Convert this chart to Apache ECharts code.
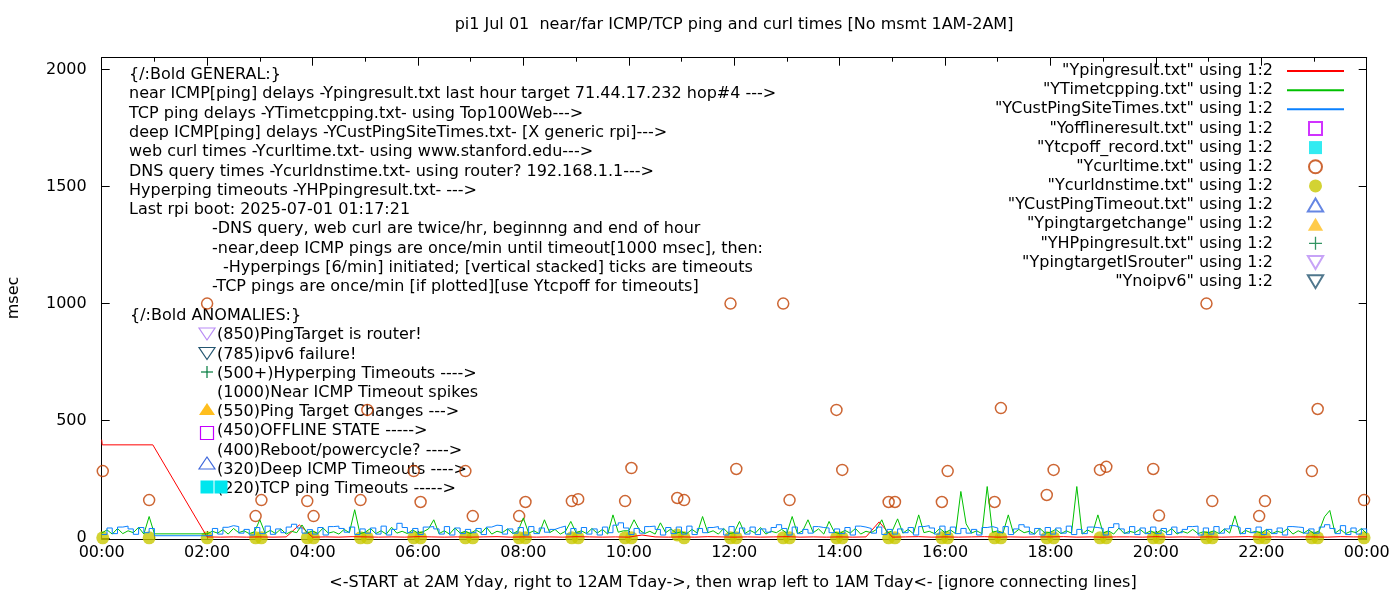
<!DOCTYPE html>
<html>
<head>
<meta charset="utf-8">
<title>pi1 Jul 01 ping and curl times</title>
<script src="https://cdn.jsdelivr.net/npm/echarts@6/dist/echarts.min.js"></script>
<style>
html, body { margin: 0; padding: 0; background: #fff; }
#chart { width: 1400px; height: 600px; }
</style>
</head>
<body>
<div id="chart"></div>
<script>
var FONT = 'DejaVu Sans';
var FS = 16;
var STEP = 0.1;          // hours between sampled line points
var PING_STEP = 0.25;    // hours between sampled red points

// near ICMP ping, Ypingresult.txt (red)
var pingEarlyHours = [0, 0.01, 0.97];
var pingEarlyMs = [419, 397, 397];
// from 02:00 to 24:00
var pingLateMs = [
    4, 3, 4, 3,   4, 3, 4, 55,  3, 4, 3, 5,   4, 3, 4, 3,
    5, 4, 3, 4,   3, 4, 5, 3,   4, 3, 4, 3,   5, 4, 3, 4,
    3, 12, 4, 3,  4, 3, 5, 4,   3, 4, 3, 4,   5, 3, 4, 3,
    4, 3, 4, 68,  3, 4, 5, 3,   4, 3, 4, 5,   3, 4, 3, 4,
    4, 5, 3, 4,   3, 4, 4, 3,   5, 3, 4, 3,   4, 3, 4, 5,
    3, 4, 3, 4,   4, 3, 5, 4,   4
];

// TCP ping, YTimetcpping.txt (green): 00:00-01:00, then 02:00-24:00
var tcpEarlyMs = [20, 34, 16, 40, 18, 30, 22, 45, 16, 91, 17];
var tcpLateMs = [
    17, 28, 20, 35, 16, 40, 22, 30, 18, 26,
    77, 20, 32, 18, 38, 16, 28, 22, 55, 20,
    30, 18, 42, 20, 26, 16, 36, 22, 120, 18,
    24, 40, 18, 30, 16, 45, 20, 28, 18, 34,
    20, 26, 38, 77, 18, 30, 16, 42, 20, 28,
    18, 34, 20, 45, 16, 28, 22, 38, 18, 30,
    85, 20, 30, 18, 77, 22, 36, 16, 28, 70,
    22, 30, 18, 40, 20, 36, 16, 98, 24, 30,
    30, 77, 34, 18, 28, 16, 64, 22, 38, 20,
    26, 18, 36, 20, 91, 22, 30, 16, 40, 18,
    22, 70, 18, 32, 20, 44, 16, 28, 22, 36,
    20, 91, 18, 30, 77, 22, 38, 16, 70, 24,
    18, 32, 20, 40, 16, 28, 22, 36, 77, 20,
    30, 81, 20, 36, 18, 98, 22, 28, 18, 40,
    22, 34, 18, 198, 60, 20, 30, 18, 219, 24,
    30, 20, 98, 18, 36, 22, 28, 16, 40, 20,
    24, 36, 18, 30, 20, 219, 16, 34, 22, 98,
    20, 30, 16, 42, 18, 28, 22, 36, 18, 30,
    18, 34, 22, 40, 16, 28, 20, 36, 18, 26,
    22, 30, 18, 38, 20, 94, 16, 32, 22, 28,
    20, 36, 18, 28, 22, 40, 16, 30, 20, 34,
    18, 30, 90, 117, 20, 36, 18, 28, 22, 40,
    18
];

// deep ICMP ping, YCustPingSiteTimes.txt (blue): 00:00-01:00, then 02:00-24:00
var deepEarlyMs = [14, 42, 18, 46, 50, 38, 15, 44, 22, 40, 9];
var deepLateMs = [
    10, 40, 16, 45, 52, 48, 20, 36, 12, 44,
    18, 50, 15, 38, 22, 46, 58, 42, 20, 35,
    16, 44, 12, 48, 50, 40, 24, 46, 14, 38,
    20, 42, 16, 50, 12, 36, 62, 44, 22, 40,
    14, 46, 48, 38, 16, 48, 12, 42, 18, 36,
    22, 40, 14, 46, 54, 52, 16, 38, 20, 44,
    12, 48, 18, 42, 24, 36, 44, 50, 16, 40,
    20, 44, 16, 38, 12, 46, 22, 54, 64, 42,
    14, 40, 20, 48, 50, 36, 12, 44, 18, 46,
    16, 50, 14, 40, 22, 44, 48, 38, 12, 48,
    20, 42, 16, 46, 14, 38, 24, 44, 56, 40,
    12, 46, 18, 36, 20, 48, 44, 42, 22, 38,
    18, 44, 12, 50, 46, 40, 20, 46, 14, 36,
    16, 38, 22, 44, 12, 48, 52, 42, 16, 50,
    14, 46, 18, 40, 20, 36, 12, 44, 48, 42,
    22, 48, 14, 38, 56, 46, 16, 40, 12, 44,
    16, 42, 20, 50, 14, 36, 18, 46, 44, 40,
    12, 44, 60, 38, 20, 48, 14, 42, 18, 46,
    18, 40, 14, 46, 22, 36, 48, 50, 12, 42,
    16, 48, 20, 38, 52, 44, 18, 40, 22, 46,
    14, 36, 18, 42, 12, 48, 46, 44, 20, 38,
    20, 46, 56, 40, 18, 52, 14, 42, 16, 38,
    20
];

// web curl (Ycurltime.txt) and DNS query (Ycurldnstime.txt), same sample times
var curlHours = [0.02, 0.9, 2.0, 2.92, 3.03, 3.9, 4.02, 4.91, 5.04, 5.92, 6.05, 6.9,
    7.04, 7.92, 8.04, 8.92, 9.04, 9.93, 10.05, 10.92, 11.05, 11.93, 12.04, 12.93,
    13.05, 13.94, 14.05, 14.93, 15.05, 15.94, 16.05, 16.94, 17.06, 17.93, 18.06,
    18.94, 19.06, 19.95, 20.06, 20.96, 21.07, 21.96, 22.07, 22.96, 23.07, 23.95];
var curlMs = [285, 161, 1000, 93, 161, 157, 93, 161, 546, 285, 153, 285,
    93, 93, 153, 157, 165, 157, 298, 170, 161, 1000, 294, 1000,
    161, 546, 290, 153, 153, 153, 285, 153, 554, 183, 290,
    290, 303, 294, 95, 1000, 157, 93, 157, 285, 550, 161];
var dnsMs = [0, 0, 0, 0, 0, 0, 0, 0, 0, 0, 0, 0,
    0, 0, 0, 0, 0, 0, 0, 12, 0, 0, 0, 0,
    0, 0, 0, 0, 0, 0, 0, 0, 0, 0, 0,
    0, 0, 0, 0, 0, 0, 0, 0, 0, 0, 0];

var yTicks = [0, 500, 1000, 1500, 2000];

var seriesNames = [
    '"Ypingresult.txt" using 1:2',
    '"YTimetcpping.txt" using 1:2',
    '"YCustPingSiteTimes.txt" using 1:2',
    '"Yofflineresult.txt" using 1:2',
    '"Ytcpoff_record.txt" using 1:2',
    '"Ycurltime.txt" using 1:2',
    '"Ycurldnstime.txt" using 1:2',
    '"YCustPingTimeout.txt" using 1:2',
    '"Ypingtargetchange" using 1:2',
    '"YHPpingresult.txt" using 1:2',
    '"YpingtargetISrouter" using 1:2',
    '"Ynoipv6" using 1:2'
];

var titleText = 'pi1 Jul 01  near/far ICMP/TCP ping and curl times [No msmt 1AM-2AM]';
var xName = '<-START at 2AM Yday, right to 12AM Tday->, then wrap left to 1AM Tday<- [ignore connecting lines]';
var yName = 'msec';

var generalNotes = [
    '{/:Bold GENERAL:}',
    'near ICMP[ping] delays -Ypingresult.txt last hour target 71.44.17.232 hop#4 --->',
    'TCP ping delays -YTimetcpping.txt- using Top100Web--->',
    'deep ICMP[ping] delays -YCustPingSiteTimes.txt- [X generic rpi]--->',
    'web curl times -Ycurltime.txt- using www.stanford.edu--->',
    'DNS query times -Ycurldnstime.txt- using router? 192.168.1.1--->',
    'Hyperping timeouts -YHPpingresult.txt- --->',
    'Last rpi boot: 2025-07-01 01:17:21',
    '-DNS query, web curl are twice/hr, beginnng and end of hour',
    '-near,deep ICMP pings are once/min until timeout[1000 msec], then:',
    '-Hyperpings [6/min] initiated; [vertical stacked] ticks are timeouts',
    '-TCP pings are once/min [if plotted][use Ytcpoff for timeouts]'
];
var anomalyNotes = [
    '{/:Bold ANOMALIES:}',
    '(850)PingTarget is router!',
    '(785)ipv6 failure!',
    '(500+)Hyperping Timeouts ---->',
    '(1000)Near ICMP Timeout spikes',
    '(550)Ping Target Changes --->',
    '(450)OFFLINE STATE ----->',
    '(400)Reboot/powercycle? ---->',
    '(320)Deep ICMP Timeouts ---->',
    '(220)TCP ping Timeouts ----->'
];

var C = {
    red: '#ff0000', green: '#00c000', blue: '#0a80ff',
    offline: '#c400ff', tcpoff: '#00e6ee', curl: '#c04000', dns: '#c8c800',
    custTimeout: '#3f68dc', target: '#ffbe1e', hp: '#007a3c',
    router: '#b98cf5', ipv6: '#245570'
};

// pair up sampled values with their hour
function sampled(start, step, values) {
    return values.map(function (v, i) {
        return [+(start + i * step).toFixed(2), v];
    });
}

var pingData = pingEarlyHours.map(function (h, i) { return [h, pingEarlyMs[i]]; })
    .concat(sampled(2, PING_STEP, pingLateMs));
var tcpData = sampled(0, STEP, tcpEarlyMs).concat(sampled(2, STEP, tcpLateMs));
var deepData = sampled(0, STEP, deepEarlyMs).concat(sampled(2, STEP, deepLateMs));
var curlData = curlHours.map(function (h, i) { return [h, curlMs[i]]; });
var dnsData = curlHours.map(function (h, i) { return [h, dnsMs[i]]; });

function hourLabel(v) {
    var h = Math.round(v) % 24;
    return (h < 10 ? '0' : '') + h + ':00';
}

function lineSeries(name, data, color, step) {
    return {
        name: name, type: 'line', data: data, step: step || false,
        symbol: 'none', showSymbol: false, animation: false,
        lineStyle: { color: color, width: 1 },
        itemStyle: { color: color }
    };
}

function pointSeries(name, data, symbol, size, color, hollow) {
    return {
        name: name, type: 'scatter', data: data, symbol: symbol,
        symbolSize: size, animation: false,
        itemStyle: hollow
            ? { color: 'rgba(255,255,255,0)', borderColor: color, borderWidth: 1.5 }
            : { color: color }
    };
}

// path symbols keep their aspect in the legend too
var squarePath = 'path://M0,0H10V10H0Z';
var upTri = 'path://M5,0L10,8.5L0,8.5Z';
var downTri = 'path://M0,0L10,0L5,8.5Z';
var plusPath = 'path://M4.5,0h1v10h-1z M0,4.5h10v1h-10z';

// legend entries; the three line entries hide the dot ECharts puts on line icons
var legendData = seriesNames.map(function (n, i) {
    return i < 3 ? { name: n, itemStyle: { opacity: 0 } } : { name: n };
});

// text blocks and the little key marks drawn next to the anomaly notes
var graphics = [];
function addText(x, y, text, align, rot) {
    graphics.push({
        type: 'text', x: x, y: y, rotation: rot || 0, silent: true,
        style: {
            text: text, fill: '#000', font: FS + 'px "' + FONT + '"',
            textAlign: align || 'left', textVerticalAlign: 'middle'
        }
    });
}
addText(734, 25, titleText, 'center');
addText(733, 583, xName, 'center');
addText(14, 298, yName, 'center', Math.PI / 2);
generalNotes.forEach(function (t, i) {
    var x = i < 8 ? 129 : (i === 10 ? 223 : 212);
    addText(x, 75 + i * 19.27, t);
});
anomalyNotes.forEach(function (t, i) {
    addText(i === 0 ? 130 : 217, 316 + i * 19.2, t);
});
function keyTri(cx, cy, down, color, filled) {
    var pts = down
        ? [[cx - 8, cy - 6], [cx + 8, cy - 6], [cx, cy + 6]]
        : [[cx - 8, cy + 6], [cx + 8, cy + 6], [cx, cy - 6]];
    graphics.push({
        type: 'polygon', silent: true, shape: { points: pts },
        style: filled ? { fill: color } : { fill: 'none', stroke: color, lineWidth: 1.2 }
    });
}
function keyRect(cx, cy, color, filled) {
    graphics.push({
        type: 'rect', silent: true, shape: { x: cx - 6.5, y: cy - 6.5, width: 13, height: 13 },
        style: filled ? { fill: color } : { fill: 'none', stroke: color, lineWidth: 1.2 }
    });
}
keyTri(207, 334, true, C.router, false);
keyTri(207, 353.5, true, C.ipv6, false);
graphics.push({ type: 'line', silent: true, shape: { x1: 207, y1: 366, x2: 207, y2: 378 }, style: { stroke: C.hp, lineWidth: 1.2 } });
graphics.push({ type: 'line', silent: true, shape: { x1: 201, y1: 372, x2: 213, y2: 372 }, style: { stroke: C.hp, lineWidth: 1.2 } });
keyTri(207, 409, false, C.target, true);
keyRect(207, 433, C.offline, false);
keyTri(207, 463, false, C.custTimeout, false);
keyRect(207, 487, C.tcpoff, true);
keyRect(221, 487, C.tcpoff, true);

var axisColor = '#000';
var labelStyle = { color: '#000', fontFamily: FONT, fontSize: FS };

var option = {
    animation: false,
    backgroundColor: '#fff',
    textStyle: { fontFamily: FONT },
    grid: { left: 101.7, right: 33.3, top: 57.7, bottom: 61, containLabel: false, outerBoundsMode: 'none' },
    legend: {
        orient: 'vertical', align: 'right', right: 55, top: 63, padding: 0,
        itemWidth: 57, itemHeight: 13, itemGap: 3.15, selectedMode: false,
        symbolKeepAspect: true,
        textStyle: { color: '#000', fontFamily: FONT, fontSize: FS, padding: [0, 9, 0, 0] },
        data: legendData
    },
    xAxis: [{
        type: 'value', min: 0, max: 24, interval: 2, position: 'bottom',
        axisLine: { onZero: false, lineStyle: { color: axisColor, width: 1 } },
        axisTick: { inside: true, length: 8, lineStyle: { color: axisColor } },
        minorTick: { show: true, splitNumber: 2, length: 4, lineStyle: { color: axisColor } },
        axisLabel: Object.assign({ margin: 6, formatter: hourLabel }, labelStyle),
        splitLine: { show: false }, minorSplitLine: { show: false }
    }, {
        type: 'value', min: 0, max: 24, interval: 2, position: 'top',
        axisLine: { onZero: false, lineStyle: { color: axisColor, width: 1 } },
        axisTick: { inside: true, length: 8, lineStyle: { color: axisColor } },
        minorTick: { show: true, splitNumber: 2, length: 4, lineStyle: { color: axisColor } },
        axisLabel: { show: false },
        splitLine: { show: false }, minorSplitLine: { show: false }
    }],
    yAxis: [{
        type: 'value', min: -5, max: 2050, position: 'left',
        axisLine: { show: true, onZero: false, lineStyle: { color: axisColor, width: 1 } },
        axisTick: { show: true, inside: true, length: 8, customValues: yTicks, lineStyle: { color: axisColor } },
        axisLabel: Object.assign({ margin: 15, customValues: yTicks, formatter: function (v) { return String(v); } }, labelStyle),
        splitLine: { show: false }
    }, {
        type: 'value', min: -5, max: 2050, position: 'right',
        axisLine: { show: true, onZero: false, lineStyle: { color: axisColor, width: 1 } },
        axisTick: { show: true, inside: true, length: 8, customValues: yTicks, lineStyle: { color: axisColor } },
        axisLabel: { show: false },
        splitLine: { show: false }
    }],
    series: [
        lineSeries(seriesNames[0], pingData, C.red),
        lineSeries(seriesNames[1], tcpData, C.green),
        lineSeries(seriesNames[2], deepData, C.blue, 'end'),
        pointSeries(seriesNames[3], [], squarePath, 13, C.offline, true),
        pointSeries(seriesNames[4], [], squarePath, 13, C.tcpoff, false),
        pointSeries(seriesNames[5], curlData, 'circle', 11, C.curl, true),
        pointSeries(seriesNames[6], dnsData, 'circle', 13, C.dns, false),
        pointSeries(seriesNames[7], [], upTri, 15, C.custTimeout, true),
        pointSeries(seriesNames[8], [], upTri, 15, C.target, false),
        pointSeries(seriesNames[9], [], plusPath, 13, C.hp, false),
        pointSeries(seriesNames[10], [], downTri, 15, C.router, true),
        pointSeries(seriesNames[11], [], downTri, 15, C.ipv6, true)
    ],
    graphic: graphics
};

var chart = echarts.init(document.getElementById('chart'));
chart.setOption(option);
</script>
</body>
</html>
